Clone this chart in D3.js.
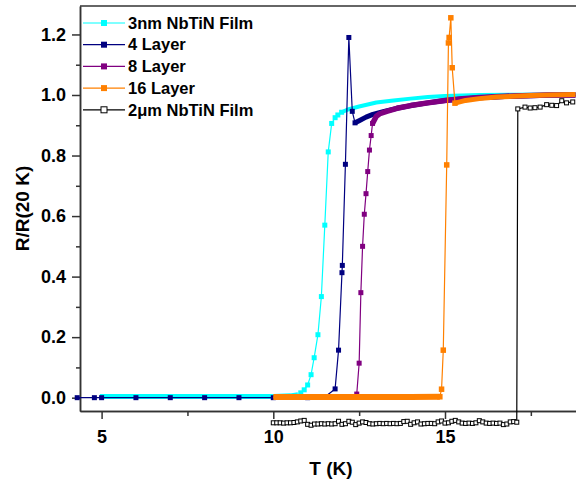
<!DOCTYPE html>
<html>
<head>
<meta charset="utf-8">
<script src="https://cdn.jsdelivr.net/npm/d3@7"></script>
<style>
body { margin: 0; background: #fff; }
svg { display: block; font-family: "Liberation Sans", Arial, sans-serif; font-weight: bold; }
.axis path, .axis line { stroke: #333; stroke-width: 1.5; }
.axis text { fill: #000; font-size: 18px; font-weight: bold; font-family: "Liberation Sans", Arial, sans-serif; }
</style>
</head>
<body>
<svg id="chart" width="576" height="485"></svg>
<script>
// values, [T (K), R/R(20 K)]
var film3nmLow = [[4.95,0.004],[6,0.004],[7,0.004],[8,0.004],[9,0.004],[10,0.004],[10.5,0.006],[10.72,0.010]];
var film3nmRise = [[10.80,0.016],[10.90,0.026],[11.00,0.042],[11.10,0.076],[11.19,0.132],[11.30,0.208],
    [11.40,0.334],[11.50,0.570],[11.60,0.812],[11.70,0.906],[11.80,0.925],[11.88,0.934],[11.99,0.943]];
var film3nmHigh = [[11.99,0.943],[12.2,0.953],[12.5,0.962],[13.0,0.975],[13.5,0.982],[14.0,0.988],
    [14.5,0.993],[15.0,0.997],[16.0,1.0],[17.0,1.001],[18.0,1.002],[18.8,1.002]];

var layer4Low = [[4.29,0.0],[4.79,0.0],[5.0,0.0],[6.0,0.0],[7.0,0.0],[8.0,0.0],[9.0,0.0],[10.0,0.0],[11.0,0.0],[11.5,0.002]];
var layer4Rise = [[11.80,0.029],[11.90,0.157],[12.00,0.413],[12.01,0.437],[12.10,0.771],[12.20,1.190],[12.30,0.946],[12.38,0.908]];
var layer4High = [[12.38,0.908],[12.5,0.915],[12.7,0.927],[12.9,0.936],[13.2,0.945],[13.6,0.956],[14.0,0.965],
    [14.5,0.974],[15.0,0.982],[15.5,0.987],[16,0.991],[17,0.996],[18,0.999],[18.8,1.0]];

var layer8Low = [[10.0,-0.001],[11.0,0.0],[12.0,0.0],[12.4,0.002]];
var layer8Rise = [[12.43,0.012],[12.50,0.114],[12.55,0.347],[12.60,0.500],[12.65,0.606],[12.70,0.674],
    [12.75,0.747],[12.80,0.818],[12.85,0.866],[12.89,0.906]];
var layer8High = [[12.89,0.906],[13.0,0.930],[13.1,0.938],[13.3,0.946],[13.6,0.956],[14.0,0.965],[14.5,0.974],
    [15.0,0.982],[15.5,0.988],[16.0,0.992],[17.0,0.997],[18.0,1.0],[18.8,1.0]];

var layer16Low = [[10.0,0.002],[11,0.002],[12,0.002],[13,0.002],[14,0.002],[14.85,0.003]];
var layer16Rise = [[14.85,0.003],[14.90,0.028],[14.95,0.157],[15.05,0.769],[15.10,1.172],[15.12,1.190],
    [15.17,1.255],[15.21,1.090],[15.29,0.973]];
var layer16High = [[15.29,0.973],[15.6,0.982],[16.0,0.988],[16.5,0.993],[17.0,0.996],[17.5,0.998],[18.0,1.0],[18.8,1.002]];

var film2umLow = [[10.0,-0.083],[10.1,-0.083],[10.2,-0.083],[10.3,-0.084],[10.4,-0.083],[10.5,-0.083],
    [10.6,-0.082],[10.7,-0.080],[10.8,-0.077],[10.9,-0.075],[11.0,-0.088],[11.1,-0.091],[11.2,-0.087],
    [11.3,-0.087],[11.4,-0.086],[11.5,-0.087],[11.6,-0.086],[11.7,-0.087],[11.8,-0.086],[11.9,-0.078],
    [12.0,-0.088],[12.1,-0.086],[12.2,-0.078],[12.3,-0.081],[12.4,-0.089],[12.5,-0.084],[12.6,-0.080],
    [12.7,-0.082],[12.8,-0.086],[12.9,-0.087],[13.0,-0.086],[13.1,-0.085],[13.2,-0.086],[13.3,-0.085],
    [13.4,-0.086],[13.5,-0.085],[13.6,-0.086],[13.7,-0.085],[13.8,-0.079],[13.9,-0.078],[14.0,-0.088],
    [14.1,-0.083],[14.2,-0.080],[14.3,-0.087],[14.4,-0.086],[14.5,-0.085],[14.6,-0.085],[14.7,-0.086],
    [14.8,-0.080],[14.9,-0.077],[15.0,-0.084],[15.1,-0.083],[15.2,-0.078],[15.3,-0.075],[15.4,-0.080],
    [15.5,-0.084],[15.6,-0.085],[15.7,-0.084],[15.8,-0.085],[15.9,-0.083],[16.0,-0.076],[16.1,-0.080],
    [16.2,-0.084],[16.3,-0.085],[16.4,-0.084],[16.5,-0.085],[16.6,-0.084],[16.7,-0.089],[16.8,-0.087],
    [16.9,-0.080],[17.0,-0.079],[17.09,-0.081]];
var film2umHigh = [[17.12,0.954],[17.33,0.960],[17.48,0.957],[17.62,0.958],[17.77,0.960],[17.96,0.968],
    [18.11,0.966],[18.25,0.965],[18.40,0.981],[18.54,0.974],[18.72,0.977]];

var yTicks = [0.0, 0.2, 0.4, 0.6, 0.8, 1.0, 1.2];
var yMinor = [0.1, 0.3, 0.5, 0.7, 0.9, 1.1];
var xTicks = [5, 10, 15];
var xMinor = [7.5, 12.5, 17.5];

var series = [
    {name: "3nm NbTiN Film", color: "#00ffff", fill: "#00ffff", size: 5,
     parts: [{pts: film3nmLow, kind: "band"}, {pts: film3nmRise, kind: "mark"}, {pts: film3nmHigh, kind: "band", w: 4}]},
    {name: "4 Layer", color: "#000080", fill: "#000080", size: 5,
     parts: [{pts: layer4Low, kind: "mark"}, {pts: layer4Rise, kind: "mark"}, {pts: layer4High, kind: "band"}]},
    {name: "8 Layer", color: "#800080", fill: "#800080", size: 5,
     parts: [{pts: layer8Low, kind: "plain"}, {pts: layer8Rise, kind: "mark"}, {pts: layer8High, kind: "band", w: 5.5}]},
    {name: "16 Layer", color: "#ff8000", fill: "#ff8000", size: 5.5,
     parts: [{pts: layer16Low, kind: "band", w: 6}, {pts: layer16Rise, kind: "mark"}, {pts: layer16High, kind: "band"}]},
    {name: "2\u03bcm NbTiN Film", color: "#000", fill: "#fff", size: 4,
     parts: [{pts: film2umLow, kind: "mark"}, {pts: film2umHigh, kind: "mark"}]}
];

var svg = d3.select("#chart");
var plot = {left: 80, right: 576, top: 6, bottom: 411};

var x = d3.scaleLinear().domain([4.371, 18.815]).range([plot.left, plot.right]);
var y = d3.scaleLinear().domain([-0.044, 1.294]).range([plot.bottom, plot.top]);

// axes
svg.append("g").attr("class", "axis")
    .attr("transform", "translate(" + plot.left + ",0)")
    .call(d3.axisLeft(y).tickValues(yTicks).tickFormat(d3.format(".1f")).tickSize(8).tickSizeOuter(0).tickPadding(6));
svg.append("g").attr("class", "axis")
    .attr("transform", "translate(" + plot.left + ",0)")
    .call(d3.axisLeft(y).tickValues(yMinor).tickFormat("").tickSize(4).tickSizeOuter(0));
svg.append("g").attr("class", "axis")
    .attr("transform", "translate(0," + plot.bottom + ")")
    .call(d3.axisBottom(x).tickValues(xTicks).tickSize(8).tickSizeOuter(0).tickPadding(11));
svg.append("g").attr("class", "axis")
    .attr("transform", "translate(0," + plot.bottom + ")")
    .call(d3.axisBottom(x).tickValues(xMinor).tickFormat("").tickSize(5).tickSizeOuter(0));
svg.append("line")
    .attr("x1", plot.left).attr("x2", plot.right).attr("y1", plot.top).attr("y2", plot.top)
    .attr("stroke", "#333").attr("stroke-width", 1.5);

svg.append("text")
    .attr("transform", "translate(22," + (plot.top + plot.bottom) / 2 + ") rotate(-90)")
    .attr("text-anchor", "middle").attr("dy", "0.35em")
    .attr("font-size", 19).text("R/R(20 K)");
svg.append("text")
    .attr("x", 331).attr("y", 475).attr("text-anchor", "middle")
    .attr("font-size", 19).text("T (K)");

var line = d3.line().x(d => x(d[0])).y(d => y(d[1]));

series.forEach(function(s) {
    let g = svg.append("g");
    let all = [];
    s.parts.forEach(p => { all = all.concat(p.pts); });
    g.append("path")
        .attr("d", line(all))
        .attr("fill", "none")
        .attr("stroke", s.color)
        .attr("stroke-width", 1.2);
    s.parts.filter(p => p.kind === "band").forEach(function(p) {
        g.append("path")
            .attr("d", line(p.pts))
            .attr("fill", "none")
            .attr("stroke", s.color)
            .attr("stroke-width", p.w || 5)
            .attr("stroke-linejoin", "round");
    });
    let marks = [];
    s.parts.filter(p => p.kind === "mark").forEach(p => { marks = marks.concat(p.pts); });
    g.selectAll("rect")
        .data(marks)
        .enter()
        .append("rect")
        .attr("x", d => x(d[0]) - s.size / 2)
        .attr("y", d => y(d[1]) - s.size / 2)
        .attr("width", s.size)
        .attr("height", s.size)
        .attr("fill", s.fill)
        .attr("stroke", s.fill === "#fff" ? "#000" : "none")
        .attr("stroke-width", 1);
});

// legend
var legend = svg.append("g");
series.forEach(function(s, i) {
    let ly = 23 + i * 21.7;
    legend.append("line")
        .attr("x1", 83).attr("x2", 125).attr("y1", ly).attr("y2", ly)
        .attr("stroke", s.color).attr("stroke-width", 1.2);
    legend.append("rect")
        .attr("x", 104 - 3).attr("y", ly - 3).attr("width", 6).attr("height", 6)
        .attr("fill", s.fill)
        .attr("stroke", s.fill === "#fff" ? "#000" : "none");
    legend.append("text")
        .attr("x", 128).attr("y", ly).attr("dy", "0.35em")
        .attr("font-size", 16.5).text(s.name);
});
</script>
</body>
</html>
